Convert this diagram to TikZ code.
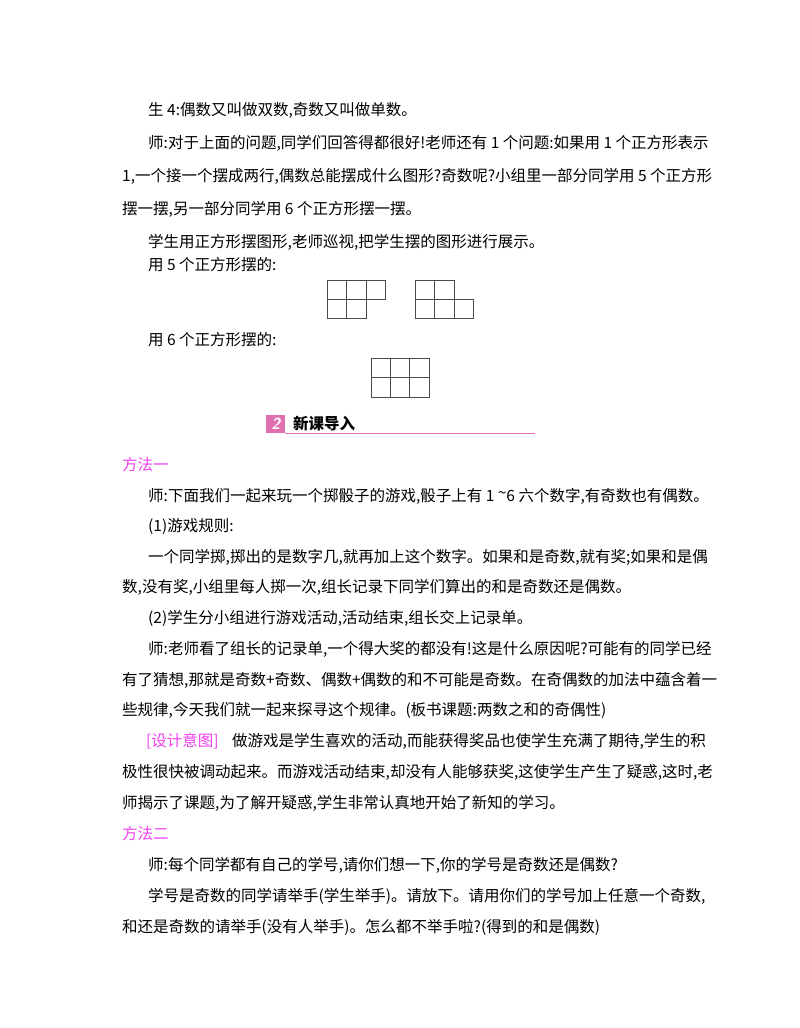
\documentclass[tikz,border=0pt]{standalone}
\usepackage{fontspec}
\newfontfamily\cjk{Noto Sans CJK SC}
\definecolor{pk}{HTML}{F040F0}
\definecolor{pkl}{HTML}{E070B0}
\begin{document}
\begin{tikzpicture}[x=1pt,y=-1pt,
  tx/.style={anchor=west,inner sep=0pt,font=\cjk\fontsize{15.5}{18}\selectfont},
  pt/.style={tx,text=pk},
  sq/.style={draw=black!70,line width=0.6pt}]
\useasboundingbox (0,0) rectangle (800,1028);
\node[tx] (l1) at (148,110) {生 4:偶数又叫做双数,奇数又叫做单数。};
\node[tx] (l2) at (148,143) {师:对于上面的问题,同学们回答得都很好!老师还有 1 个问题:如果用 1 个正方形表示};
\node[tx] (l3) at (122,176) {1,一个接一个摆成两行,偶数总能摆成什么图形?奇数呢?小组里一部分同学用 5 个正方形};
\node[tx] (l4) at (122,209) {摆一摆,另一部分同学用 6 个正方形摆一摆。};
\node[tx] (l5) at (148,242) {学生用正方形摆图形,老师巡视,把学生摆的图形进行展示。};
\node[tx] (l6) at (148,265) {用 5 个正方形摆的:};
\node[tx] (l7) at (148,340) {用 6 个正方形摆的:};
% figures
\draw[sq] (327,280) rectangle (385,299) (327,299) rectangle (366,318)
  (346.5,280) -- (346.5,318) (366,280) -- (366,299);
\draw[sq] (415,280) rectangle (454,299) (415,299) rectangle (473,318)
  (434.5,280) -- (434.5,318) (454,299) -- (454,318);
\draw[sq] (371,358) rectangle (429,397) (371,377.5) -- (429,377.5)
  (390.3,358) -- (390.3,397) (409.6,358) -- (409.6,397);
% header
\node[fill=pkl,minimum width=19pt,minimum height=18pt,inner sep=0pt,anchor=south west,
  text=white,font=\bfseries\itshape\sffamily\fontsize{16}{16}\selectfont] (hb) at (266,433) {2};
\node[tx,font=\cjk\bfseries\fontsize{15.5}{18}\selectfont] (ht) at (293,424) {新课导入};
\draw[pkl,line width=0.8pt] (hb.south east) -- (535,433);
\node[pt] (l8) at (122,465) {方法一};
\node[tx] (l9) at (148,496) {师:下面我们一起来玩一个掷骰子的游戏,骰子上有 1 \raisebox{3pt}{\textasciitilde}6 六个数字,有奇数也有偶数。};
\node[tx] (l10) at (148,526) {(1)游戏规则:};
\node[tx] (l11) at (148,557) {一个同学掷,掷出的是数字几,就再加上这个数字。如果和是奇数,就有奖;如果和是偶};
\node[tx] (l12) at (122,587) {数,没有奖,小组里每人掷一次,组长记录下同学们算出的和是奇数还是偶数。};
\node[tx] (l13) at (148,618) {(2)学生分小组进行游戏活动,活动结束,组长交上记录单。};
\node[tx] (l14) at (148,649) {师:老师看了组长的记录单,一个得大奖的都没有!这是什么原因呢?可能有的同学已经};
\node[tx] (l15) at (122,680) {有了猜想,那就是奇数+奇数、偶数+偶数的和不可能是奇数。在奇偶数的加法中蕴含着一};
\node[tx] (l16) at (122,710) {些规律,今天我们就一起来探寻这个规律。(板书课题:两数之和的奇偶性)};
\node[pt] (l17a) at (146,741) {[设计意图]};
\node[tx] (l17) at (232,741) {做游戏是学生喜欢的活动,而能获得奖品也使学生充满了期待,学生的积};
\node[tx] (l18) at (122,772) {极性很快被调动起来。而游戏活动结束,却没有人能够获奖,这使学生产生了疑惑,这时,老};
\node[tx] (l19) at (122,803) {师揭示了课题,为了解开疑惑,学生非常认真地开始了新知的学习。};
\node[pt] (l20) at (122,834) {方法二};
\node[tx] (l21) at (148,865) {师:每个同学都有自己的学号,请你们想一下,你的学号是奇数还是偶数?};
\node[tx] (l22) at (148,896) {学号是奇数的同学请举手(学生举手)。请放下。请用你们的学号加上任意一个奇数,};
\node[tx] (l23) at (122,927) {和还是奇数的请举手(没有人举手)。怎么都不举手啦?(得到的和是偶数)};
\end{tikzpicture}
\end{document}
